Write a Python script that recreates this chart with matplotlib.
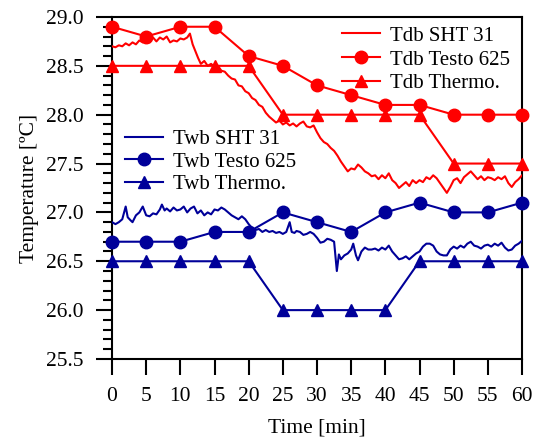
import numpy as np
import matplotlib
matplotlib.use("Agg")
from matplotlib import pyplot as plt
from matplotlib.ticker import MultipleLocator

plt.rcParams['font.family'] = ['Liberation Serif', 'DejaVu Serif']
plt.rcParams['font.size'] = 15

# readings every 5 min
t5 = [0, 5, 10, 15, 20, 25, 30, 35, 40, 45, 50, 55, 60]
tdb_testo = [28.9, 28.8, 28.9, 28.9, 28.6, 28.5, 28.3, 28.2, 28.1, 28.1, 28.0, 28.0, 28.0]
tdb_thermo = [28.5, 28.5, 28.5, 28.5, 28.5, 28.0, 28.0, 28.0, 28.0, 28.0, 27.5, 27.5, 27.5]
twb_testo = [26.7, 26.7, 26.7, 26.8, 26.8, 27.0, 26.9, 26.8, 27.0, 27.1, 27.0, 27.0, 27.1]
twb_thermo = [26.5, 26.5, 26.5, 26.5, 26.5, 26.0, 26.0, 26.0, 26.0, 26.5, 26.5, 26.5, 26.5]

# SHT 31 sensor log
tdb_sht_t = [0, 0.5, 1, 1.5, 2, 2.5, 3, 3.5, 4, 4.5, 5, 5.5, 6, 6.5, 7, 7.5, 8, 8.5, 9, 9.5,
             10, 10.5, 11, 11.4, 11.8, 12.2, 12.6, 13, 13.5, 14, 14.5, 15, 15.5, 16, 16.5, 17,
             17.5, 18, 18.5, 19, 19.5, 20, 20.5, 21, 21.5, 22, 22.5, 23, 23.5, 24, 24.5, 25,
             25.5, 26, 26.5, 27, 27.5, 28, 28.5, 29, 29.5, 30, 30.5, 31, 31.5, 32, 32.5, 33,
             33.5, 34, 34.5, 35, 35.5, 36, 36.5, 37, 37.5, 38, 38.5, 39, 39.5, 40, 40.5, 41,
             41.5, 42, 42.5, 43, 43.5, 44, 44.5, 45, 45.5, 46, 46.5, 47, 47.5, 48, 48.5, 49,
             49.5, 50, 50.5, 51, 51.5, 52, 52.5, 53, 53.5, 54, 54.5, 55, 55.5, 56, 56.5, 57,
             57.5, 58, 58.5, 59, 59.5, 60]
tdb_sht = [28.70, 28.69, 28.71, 28.70, 28.73, 28.71, 28.74, 28.72, 28.76, 28.74, 28.77, 28.74,
           28.79, 28.75, 28.79, 28.77, 28.80, 28.74, 28.76, 28.75, 28.78, 28.77, 28.79, 28.83,
           28.72, 28.65, 28.58, 28.52, 28.55, 28.50, 28.52, 28.49, 28.50, 28.45, 28.44, 28.40,
           28.37, 28.36, 28.30, 28.29, 28.24, 28.22, 28.17, 28.15, 28.10, 28.08, 28.02, 27.98,
           27.95, 27.92, 27.94, 27.90, 27.92, 27.89, 27.91, 27.88, 27.91, 27.93, 27.88, 27.87,
           27.89, 27.82, 27.76, 27.72, 27.70, 27.66, 27.63, 27.58, 27.52, 27.47, 27.42, 27.45,
           27.44, 27.49, 27.46, 27.42, 27.40, 27.37, 27.38, 27.34, 27.38, 27.35, 27.40, 27.33,
           27.30, 27.25, 27.28, 27.31, 27.27, 27.33, 27.30, 27.33, 27.31, 27.36, 27.34, 27.38,
           27.35, 27.30, 27.25, 27.20, 27.26, 27.33, 27.35, 27.30, 27.36, 27.39, 27.42, 27.38,
           27.34, 27.37, 27.33, 27.36, 27.35, 27.33, 27.36, 27.34, 27.37, 27.30, 27.26, 27.31,
           27.34, 27.38]

twb_sht_t = [0, 0.5, 1, 1.5, 2, 2.3, 2.7, 3, 3.5, 4, 4.5, 5, 5.5, 6, 6.5, 7, 7.3, 7.7, 8, 8.5,
             9, 9.5, 10, 10.5, 11, 11.5, 12, 12.5, 13, 13.5, 14, 14.5, 15, 15.5, 16, 16.5, 17,
             17.5, 18, 18.5, 19, 19.5, 20, 20.5, 21, 21.5, 22, 22.5, 23, 23.5, 24, 24.5, 25,
             25.5, 26, 26.3, 26.7, 27, 27.5, 28, 28.5, 29, 29.5, 30, 30.5, 31, 31.5, 32, 32.5,
             32.9, 33.2, 33.5, 34, 34.5, 35, 35.3, 35.7, 36, 36.5, 37, 37.5, 38, 38.5, 39, 39.5,
             40, 40.5, 41, 41.5, 42, 42.5, 43, 43.5, 44, 44.5, 45, 45.5, 46, 46.5, 47, 47.5, 48,
             48.5, 49, 49.5, 50, 50.5, 51, 51.5, 52, 52.5, 53, 53.5, 54, 54.5, 55, 55.5, 56,
             56.5, 57, 57.5, 58, 58.5, 59, 59.5, 60]
twb_sht = [26.90, 26.88, 26.90, 26.93, 27.06, 26.95, 26.92, 26.90, 26.97, 27.00, 27.06, 26.97,
           26.96, 26.99, 26.98, 27.03, 27.08, 27.02, 27.04, 27.01, 27.05, 27.02, 27.03, 27.06,
           27.00, 27.04, 27.06, 26.99, 27.02, 26.97, 27.00, 26.98, 27.03, 27.02, 27.05, 27.03,
           27.00, 26.97, 26.95, 26.93, 26.96, 26.93, 26.88, 26.84, 26.82, 26.83, 26.80, 26.82,
           26.80, 26.81, 26.79, 26.80, 26.78, 26.80, 26.90, 26.80, 26.79, 26.81, 26.80, 26.77,
           26.78, 26.80, 26.78, 26.74, 26.69, 26.70, 26.73, 26.72, 26.70, 26.40, 26.57, 26.52,
           26.56, 26.58, 26.62, 26.68, 26.56, 26.51, 26.60, 26.64, 26.62, 26.62, 26.63, 26.61,
           26.64, 26.62, 26.66, 26.60, 26.56, 26.52, 26.53, 26.55, 26.52, 26.55, 26.58, 26.60,
           26.65, 26.68, 26.68, 26.66, 26.60, 26.57, 26.56, 26.56, 26.62, 26.65, 26.63, 26.66,
           26.64, 26.68, 26.70, 26.66, 26.65, 26.63, 26.66, 26.67, 26.65, 26.68, 26.66, 26.69,
           26.64, 26.61, 26.62, 26.66, 26.68, 26.71]

red = '#ff0000'
blue = '#000099'

fig = plt.figure(figsize=(5.37, 4.41), dpi=100)
ax = fig.add_axes([0.2086, 0.186, 0.7635, 0.7755])

kw = dict(lw=1.5, ms=9, clip_on=False, zorder=3)
r1, = ax.plot(tdb_sht_t, tdb_sht, color=red, lw=1.5, zorder=3)
r2, = ax.plot(t5, tdb_testo, color=red, marker='o', **kw)
r3, = ax.plot(t5, tdb_thermo, color=red, marker='^', **kw)
b1, = ax.plot(twb_sht_t, twb_sht, color=blue, lw=1.5, zorder=3)
b2, = ax.plot(t5, twb_testo, color=blue, marker='o', **kw)
b3, = ax.plot(t5, twb_thermo, color=blue, marker='^', **kw)

ax.set_xlim(0, 60)
ax.set_ylim(25.5, 29.0)
ax.set_xticks(np.arange(0, 61, 5))
ax.set_yticks(np.arange(25.5, 29.01, 0.5))
ax.set_yticklabels(['%.1f' % v for v in np.arange(25.5, 29.01, 0.5)])
ax.yaxis.set_minor_locator(MultipleLocator(0.1))
ax.tick_params(axis='both', which='major', direction='out', length=11.5, width=1.5, labelsize=15.5)
ax.tick_params(axis='y', which='major', pad=9)
ax.tick_params(axis='x', which='major', pad=9)
ax.tick_params(axis='y', which='minor', direction='out', length=6.5, width=1.5)
for s in ax.spines.values():
    s.set_linewidth(1.5)

ax.set_xlabel('Time [min]', fontsize=15.5, labelpad=9)
ax.set_ylabel('Temperature [ºC]', fontsize=15.5, labelpad=5)

leg1 = ax.legend([r1, r2, r3], ['Tdb SHT 31', 'Tdb Testo 625', 'Tdb Thermo.'],
                 loc='center left', bbox_to_anchor=(0.561, 0.875), frameon=False,
                 borderpad=0, borderaxespad=0, labelspacing=0.2, handletextpad=0.48,
                 handlelength=1.83, fontsize=15)
ax.add_artist(leg1)
ax.legend([b1, b2, b3], ['Twb SHT 31', 'Twb Testo 625', 'Twb Thermo.'],
          loc='center left', bbox_to_anchor=(0.0317, 0.576), frameon=False,
          borderpad=0, borderaxespad=0, labelspacing=0.14, handletextpad=0.48,
          handlelength=1.83, fontsize=15)

fig.savefig('out.png', dpi=100)
